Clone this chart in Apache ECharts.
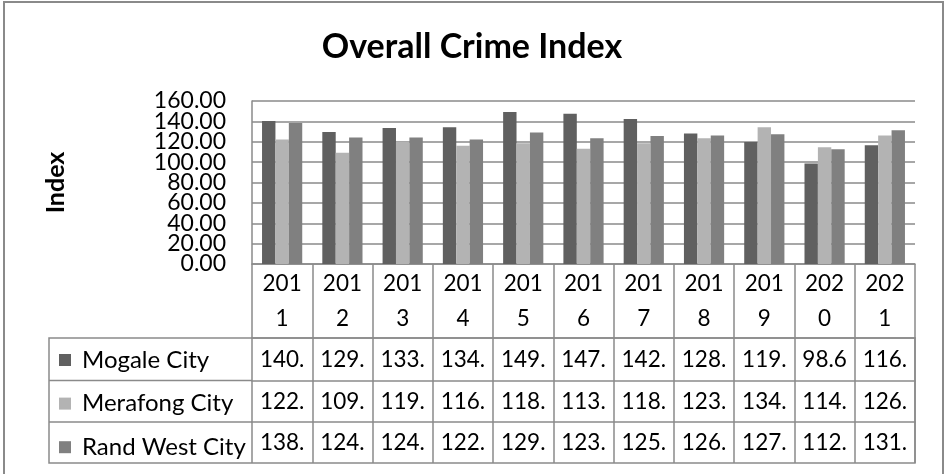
<!DOCTYPE html>
<html>
<head>
<meta charset="utf-8">
<style>
html,body{margin:0;padding:0;background:#fff;}
#chart{width:944px;height:474px;}
</style>
<script src="https://cdn.jsdelivr.net/npm/echarts@6/dist/echarts.min.js"></script>
</head>
<body>
<div id="chart"></div>
<script>
const years = ['2011','2012','2013','2014','2015','2016','2017','2018','2019','2020','2021'];
const seriesNames = ['Mogale City','Merafong City','Rand West City'];
const mogale   = [140.4,129.6,133.5,134.2,149.2,147.6,142.3,128.2,119.7,98.6,116.5];
const merafong = [122.1,109.3,119.8,116.1,118.5,113.2,118.5,123.4,134.2,114.5,126.2];
const randWest = [138.4,124.2,124.1,122.1,129.2,123.4,125.6,126.1,127.3,112.6,131.2];
const yTicks = {min:0, max:160, interval:20};

const FONT = 'Lato';
const GRAY = '#8a8a8a';
const colors = ['#606060','#b3b3b3','#808080'];
const values = [mogale, merafong, randWest];

const chart = echarts.init(document.getElementById('chart'), null, {renderer:'canvas'});

function cellText(v){ return v.toFixed(2).slice(0,4); }

const rowOffsets = [74, 116.5, 158];
const rowHeights = [42.5, 41.5, 41];

const xAxes = [{
  type:'category', data:years, position:'bottom', gridIndex:0,
  axisLine:{show:true, onZero:false, lineStyle:{color:GRAY, width:1.5}},
  axisTick:{show:true, inside:false, alignWithLabel:false, length:74, lineStyle:{color:GRAY, width:1.5}},
  axisLabel:{interval:0, color:'#000', fontFamily:FONT, fontSize:22.5, lineHeight:35,
    verticalAlign:'middle', margin:37,
    formatter:(v)=>v.slice(0,3)+'\n'+v.slice(3)}
}];
values.forEach((arr,i)=>{
  xAxes.push({
    type:'category', data:years, position:'bottom', gridIndex:0, offset:rowOffsets[i],
    axisLine:{show:true, onZero:false, lineStyle:{color:GRAY, width:1.5}},
    axisTick:{show:true, inside:false, alignWithLabel:false, length:rowHeights[i], lineStyle:{color:GRAY, width:1.5}},
    axisLabel:{interval:0, color:'#000', fontFamily:FONT, fontSize:22.5,
      verticalAlign:'middle', margin:rowHeights[i]/2,
      formatter:(v, idx)=>cellText(arr[idx])}
  });
});

const yLabelStyle = {color:'#000', fontFamily:FONT, fontSize:23, margin:26,
  formatter:(v)=>v.toFixed(2)};

const option = {
  animation:false,
  backgroundColor:'#fff',
  title:{text:'Overall Crime Index', left:'center', top:25,
    textStyle:{fontFamily:FONT, fontWeight:'bold', fontSize:34, color:'#000'}},
  legend:{orient:'vertical', left:59, top:348, padding:0, itemWidth:12, itemHeight:12, itemGap:19.6,
    selectedMode:false, icon:'rect',
    textStyle:{fontFamily:FONT, fontSize:24, lineHeight:22, color:'#000', padding:[0,0,0,6]},
    data:seriesNames},
  grid:{left:252, right:29, top:101, bottom:210, containLabel:false, outerBoundsMode:'none'},
  xAxis:xAxes,
  yAxis:[{type:'value', position:'left', min:yTicks.min, max:yTicks.max, interval:yTicks.interval,
    name:'Index', nameLocation:'middle', nameGap:184,
    nameTextStyle:{fontFamily:FONT, fontWeight:'bold', fontSize:25, color:'#000'},
    axisLine:{show:true, onZero:false, lineStyle:{color:GRAY, width:1.5}},
    axisTick:{show:false},
    splitLine:{show:true, lineStyle:{color:GRAY, width:1.5}},
    axisLabel:Object.assign({showMinLabel:false, showMaxLabel:false}, yLabelStyle)},
   {type:'value', position:'left', offset:0, min:yTicks.min, max:yTicks.max,
    interval:yTicks.max - yTicks.min,
    axisLine:{show:false, onZero:false}, axisTick:{show:false}, splitLine:{show:false},
    axisLabel:Object.assign({showMinLabel:true, showMaxLabel:true}, yLabelStyle)}],
  series: seriesNames.map((n,i)=>({
    name:n, type:'bar', xAxisIndex:0, yAxisIndex:0, data:values[i],
    barWidth:13.4, barGap:'0%',
    itemStyle:{color:colors[i]}
  })),
  graphic:[
    {type:'rect', shape:{x:4, y:2, width:939, height:490}, style:{fill:'none', stroke:'#8a8a8a', lineWidth:2}, z:-1},
    {type:'rect', shape:{x:49, y:338, width:866, height:125}, style:{fill:'none', stroke:GRAY, lineWidth:1.5}},
    {type:'line', shape:{x1:49, y1:380.5, x2:252, y2:380.5}, style:{stroke:GRAY, lineWidth:1.5}},
    {type:'line', shape:{x1:49, y1:422, x2:252, y2:422}, style:{stroke:GRAY, lineWidth:1.5}}
  ]
};
chart.setOption(option);
</script>
</body>
</html>
